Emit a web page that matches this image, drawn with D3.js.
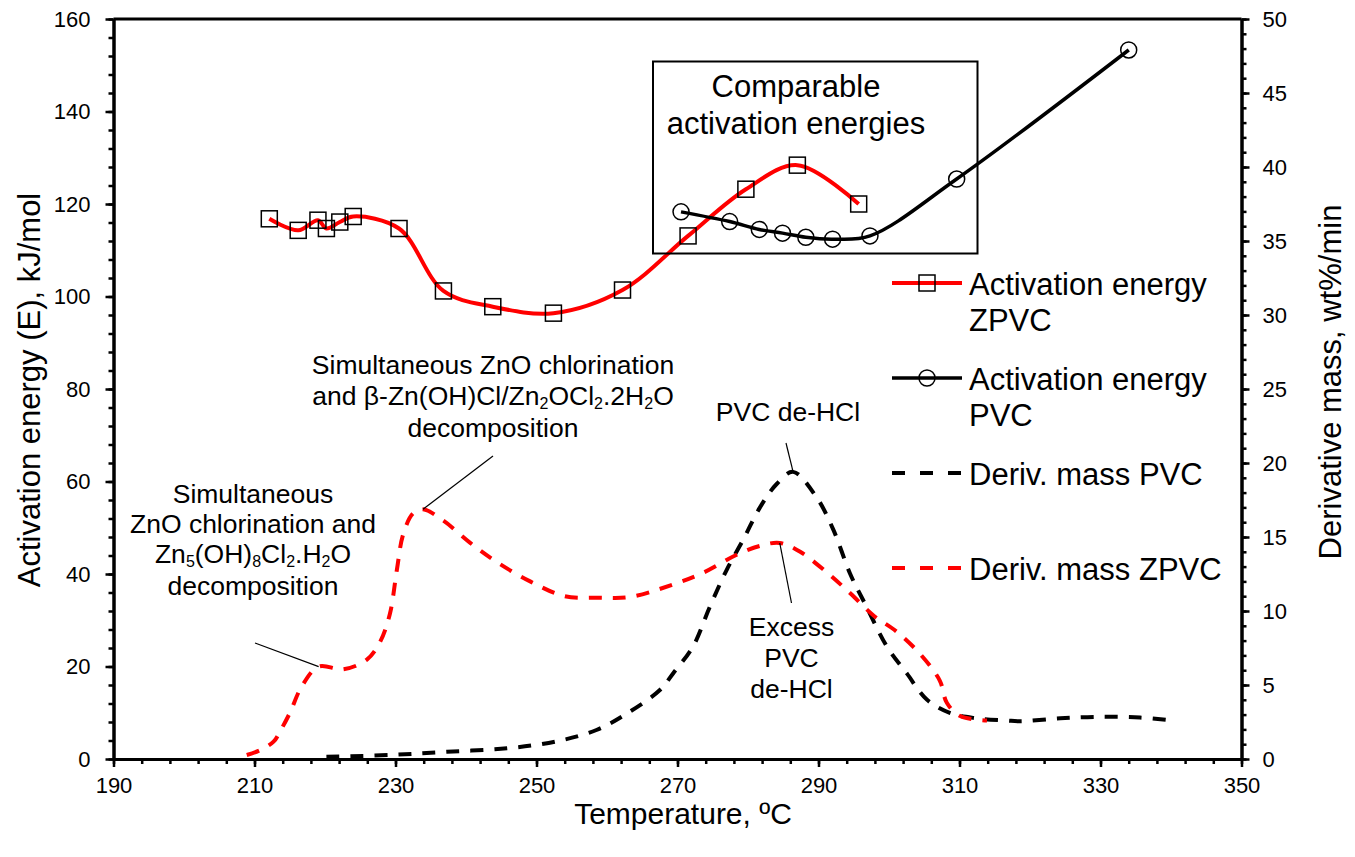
<!DOCTYPE html>
<html><head><meta charset="utf-8">
<script src="https://cdn.jsdelivr.net/npm/d3@7"></script>
<style>
body{margin:0;background:#fff}
text{font-family:"Liberation Sans",Arial,sans-serif;fill:#000}
</style>
</head><body>
<svg id="c" width="1355" height="857"></svg>
<script>
// ---------- DATA ----------
const xTicks = [190,210,230,250,270,290,310,330,350];
const yLeftTicks = [0,20,40,60,80,100,120,140,160];
const yRightTicks = [0,5,10,15,20,25,30,35,40,45,50];

// Activation energy ZPVC (kJ/mol)
const eaZpvcT = [212.1,216.2,219.0,220.2,222.1,224.0,230.5,236.8,243.8,252.4,262.2,271.5,279.7,287.0,295.7];
const eaZpvcE = [116.8,114.3,116.5,114.7,116.1,117.3,114.7,101.2,97.8,96.4,101.4,113.1,123.2,128.4,120.0];

// Activation energy PVC (kJ/mol)
const eaPvcT = [270.5,277.4,281.6,284.9,288.2,292.0,297.3,309.6,334.0];
const eaPvcE = [118.3,116.2,114.5,113.7,112.8,112.4,113.1,125.4,153.3];

// Derivative mass PVC (wt%/min)
const dmPvcT = [220.2,229.2,237.3,245.8,252.9,258.5,262.8,267.5,269.4,272.2,274.6,277.0,279.3,281.7,284.1,286.4,289.7,292.1,294.5,296.8,299.7,302.5,305.4,308.7,312.4,316.7,318.6,324.3,329.9,335.6,340.1];
const dmPvcV = [0.15,0.27,0.49,0.72,1.2,1.96,3.07,4.66,5.8,7.6,10.3,12.8,14.8,17.0,18.6,19.4,17.7,15.5,12.5,10.3,7.6,5.8,4.0,3.1,2.75,2.6,2.55,2.75,2.85,2.8,2.6];

// Derivative mass ZPVC (wt%/min)
const dmZpvcT = [208.9,210.8,212.7,213.6,215.0,216.7,219.1,222.6,225.9,227.8,229.2,230.2,231.1,232.5,233.9,236.8,240.6,244.4,249.1,254.0,259.0,263.3,269.4,273.7,278.4,281.7,284.5,287.4,291.2,294.5,297.8,301.1,304.4,307.2,308.2,310.1,313.9];
const dmZpvcV = [0.27,0.6,1.17,1.84,3.1,4.9,6.24,6.06,6.7,7.9,9.8,12.8,15.2,16.6,16.87,16.1,14.6,13.3,12.0,11.0,10.9,10.95,11.8,12.6,13.8,14.4,14.6,14.0,12.6,11.2,9.7,8.6,7.1,5.3,3.8,2.9,2.6];

const legendLabels = [["Activation energy","ZPVC"],["Activation energy","PVC"],["Deriv. mass PVC"],["Deriv. mass ZPVC"]];

// ---------- LAYOUT ----------
const svg = d3.select("#c");
const L = 113.5, R = 1241.5, T = 19, B = 759;
const x = d3.scaleLinear().domain([190,350]).range([L,R]);
const yL = d3.scaleLinear().domain([0,160]).range([B,T]);
const yR = d3.scaleLinear().domain([0,50]).range([B,T]);
const FONT = '"Liberation Sans",Arial,sans-serif';

function styleAxis(g){
  g.select(".domain").attr("stroke","#000").attr("stroke-width",3);
  g.selectAll(".tick line").attr("stroke","#000").attr("stroke-width",2.5);
  g.selectAll(".tick text").attr("font-size",22).attr("font-family",FONT).attr("fill","#000");
}
// minor ticks
svg.append("g").attr("transform",`translate(0,${B})`)
  .call(d3.axisBottom(x).tickValues(d3.range(190,351,4)).tickSize(5).tickSizeOuter(0).tickFormat(""))
  .call(styleAxis);
svg.append("g").attr("transform",`translate(${L},0)`)
  .call(d3.axisLeft(yL).tickValues(d3.range(0,161,4)).tickSize(5).tickSizeOuter(0).tickFormat(""))
  .call(styleAxis);
svg.append("g").attr("transform",`translate(${R},0)`)
  .call(d3.axisRight(yR).tickValues(d3.range(0,51,1)).tickSize(5).tickSizeOuter(0).tickFormat(""))
  .call(styleAxis);
// major ticks
svg.append("g").attr("transform",`translate(0,${B})`)
  .call(d3.axisBottom(x).tickValues(xTicks).tickSize(8).tickSizeOuter(0).tickPadding(10).tickFormat(d3.format("d")))
  .call(styleAxis);
svg.append("g").attr("transform",`translate(${L},0)`)
  .call(d3.axisLeft(yL).tickValues(yLeftTicks).tickSize(8).tickSizeOuter(0).tickPadding(15).tickFormat(d3.format("d")))
  .call(styleAxis);
svg.append("g").attr("transform",`translate(${R},0)`)
  .call(d3.axisRight(yR).tickValues(yRightTicks).tickSize(8).tickSizeOuter(0).tickPadding(13).tickFormat(d3.format("d")))
  .call(styleAxis);
svg.append("line").attr("x1",L).attr("x2",R).attr("y1",T).attr("y2",T).attr("stroke","#000").attr("stroke-width",3);

// axis titles
svg.append("text").attr("x",683).attr("y",824).attr("text-anchor","middle").attr("font-size",30).text("Temperature, ºC");
svg.append("text").attr("transform","translate(40,390) rotate(-90)").attr("text-anchor","middle").attr("font-size",31).text("Activation energy (E), kJ/mol");
svg.append("text").attr("transform","translate(1341,382) rotate(-90)").attr("text-anchor","middle").attr("font-size",31).text("Derivative mass, wt%/min");

// ---------- SERIES ----------
const curve = d3.curveCatmullRom.alpha(0.5);
const dash = "13,11";
const dmPvc = dmPvcT.map((t,i)=>[t,dmPvcV[i]]);
const dmZpvc = dmZpvcT.map((t,i)=>[t,dmZpvcV[i]]);
const eaZ = eaZpvcT.map((t,i)=>[t,eaZpvcE[i]]);
const eaP = eaPvcT.map((t,i)=>[t,eaPvcE[i]]);
const lineR = d3.line().x(d=>x(d[0])).y(d=>yR(d[1])).curve(curve);
const lineL = d3.line().x(d=>x(d[0])).y(d=>yL(d[1])).curve(curve);

svg.append("path").attr("d",lineR(dmPvc)).attr("fill","none").attr("stroke","#000").attr("stroke-width",4).attr("stroke-dasharray",dash);
svg.append("path").attr("d",lineR(dmZpvc)).attr("fill","none").attr("stroke","#ff0000").attr("stroke-width",4).attr("stroke-dasharray",dash);
svg.append("path").attr("d",lineL(eaZ)).attr("fill","none").attr("stroke","#ff0000").attr("stroke-width",4);
svg.append("path").attr("d",lineL(eaP)).attr("fill","none").attr("stroke","#000").attr("stroke-width",3.5);

svg.append("g").selectAll("rect").data(eaZ).join("rect")
  .attr("x",d=>x(d[0])-8).attr("y",d=>yL(d[1])-8).attr("width",16).attr("height",16)
  .attr("fill","none").attr("stroke","#000").attr("stroke-width",1.5);
svg.append("g").selectAll("circle").data(eaP).join("circle")
  .attr("cx",d=>x(d[0])).attr("cy",d=>yL(d[1])).attr("r",8)
  .attr("fill","none").attr("stroke","#000").attr("stroke-width",1.5);

// ---------- ANNOTATIONS ----------
function lead(x1,y1,x2,y2){svg.append("line").attr("x1",x1).attr("y1",y1).attr("x2",x2).attr("y2",y2).attr("stroke","#000").attr("stroke-width",1.2);}
function chem(t,parts){ // parts: [text, isSub]
  let down=false;
  parts.forEach(([s,isSub])=>{
    const sp=t.append("tspan").text(s);
    if(isSub&&!down){sp.attr("dy",4).attr("font-size",16);down=true;}
    else if(isSub){sp.attr("font-size",16);}
    else if(down){sp.attr("dy",-4);down=false;}
  });
}
// left annotation
(function(){
  const cx=253, fs=26.5;
  svg.append("text").attr("text-anchor","middle").attr("font-size",fs).attr("x",cx).attr("y",503).text("Simultaneous");
  svg.append("text").attr("text-anchor","middle").attr("font-size",fs).attr("x",cx).attr("y",533).text("ZnO chlorination and");
  const t3 = svg.append("text").attr("text-anchor","middle").attr("font-size",fs).attr("x",cx).attr("y",563);
  chem(t3,[["Zn"],["5",1],["(OH)"],["8",1],["Cl"],["2",1],[".H"],["2",1],["O"]]);
  svg.append("text").attr("text-anchor","middle").attr("font-size",fs).attr("x",cx).attr("y",595).text("decomposition");
  lead(255,643,x(219.1),yR(6.24));
})();
// middle annotation
(function(){
  const cx=493, fs=26.5;
  svg.append("text").attr("text-anchor","middle").attr("font-size",fs).attr("x",cx).attr("y",374).text("Simultaneous ZnO chlorination");
  const t = svg.append("text").attr("text-anchor","middle").attr("font-size",fs).attr("x",cx).attr("y",405);
  chem(t,[["and β-Zn(OH)Cl/Zn"],["2",1],["OCl"],["2",1],[".2H"],["2",1],["O"]]);
  svg.append("text").attr("text-anchor","middle").attr("font-size",fs).attr("x",cx).attr("y",437).text("decomposition");
  lead(493,456,x(233.9),yR(16.87));
})();
// PVC de-HCl
svg.append("text").attr("text-anchor","middle").attr("font-size",26.5).attr("x",788).attr("y",421).text("PVC de-HCl");
lead(786,443,x(286.4),yR(19.4));
// Excess PVC de-HCl
(function(){
  const cx=791.5;
  ["Excess","PVC","de-HCl"].forEach((s,i)=>svg.append("text").attr("text-anchor","middle").attr("font-size",26.5).attr("x",cx).attr("y",636+i*31).text(s));
  lead(791.5,603,x(284.5),yR(14.6));
})();
// comparable box
svg.append("rect").attr("x",653).attr("y",61.5).attr("width",324.5).attr("height",192).attr("fill","none").attr("stroke","#000").attr("stroke-width",2);
svg.append("text").attr("text-anchor","middle").attr("font-size",31).attr("x",796).attr("y",97).text("Comparable");
svg.append("text").attr("text-anchor","middle").attr("font-size",31).attr("x",796).attr("y",134).text("activation energies");

// ---------- LEGEND ----------
const legY = [283,378,473,568];
const legX1 = 892, legX2 = 962, legTx = 969;
const lg = svg.append("g");
lg.append("line").attr("x1",legX1).attr("x2",legX2).attr("y1",legY[0]).attr("y2",legY[0]).attr("stroke","#ff0000").attr("stroke-width",4);
lg.append("rect").attr("x",(legX1+legX2)/2-8).attr("y",legY[0]-8).attr("width",16).attr("height",16).attr("fill","none").attr("stroke","#000").attr("stroke-width",1.5);
lg.append("line").attr("x1",legX1).attr("x2",legX2).attr("y1",legY[1]).attr("y2",legY[1]).attr("stroke","#000").attr("stroke-width",3.5);
lg.append("circle").attr("cx",(legX1+legX2)/2).attr("cy",legY[1]).attr("r",8).attr("fill","none").attr("stroke","#000").attr("stroke-width",1.5);
lg.append("line").attr("x1",legX1).attr("x2",legX2+2).attr("y1",legY[2]).attr("y2",legY[2]).attr("stroke","#000").attr("stroke-width",4).attr("stroke-dasharray","13,15");
lg.append("line").attr("x1",legX1).attr("x2",legX2+2).attr("y1",legY[3]).attr("y2",legY[3]).attr("stroke","#ff0000").attr("stroke-width",4).attr("stroke-dasharray","13,15");
legendLabels.forEach((lab,i)=>{
  const t = lg.append("text").attr("font-size",31).attr("x",legTx).attr("y",legY[i]+11.5);
  lab.forEach((s,j)=>t.append("tspan").attr("x",legTx).attr("dy",j?36:0).text(s));
});
</script>
</body></html>
